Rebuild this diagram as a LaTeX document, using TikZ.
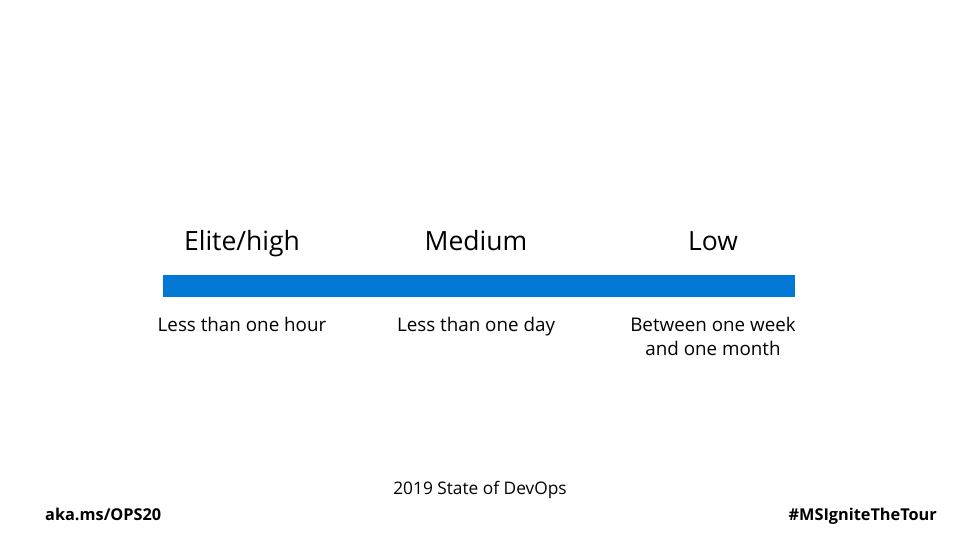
\documentclass[tikz,border=0pt]{standalone}
\usepackage{fontspec}
\setmainfont{Open Sans}
\definecolor{barblue}{RGB}{0,120,212}
\begin{document}
\begin{tikzpicture}[x=1pt,y=-1pt,
  head/.style={font=\fontsize{26.5}{30}\selectfont, anchor=base, inner sep=0},
  sub/.style={font=\fontsize{18.8}{24}\selectfont, anchor=base, align=center, inner sep=0},
  foot/.style={font=\fontsize{17.3}{20}\selectfont, anchor=base, inner sep=0},
  tag/.style={font=\bfseries\fontsize{16.3}{20}\selectfont, inner sep=0}]
\useasboundingbox (0,0) rectangle (960,540);
\fill[barblue] (163,275) rectangle (795,297);
\node[head] (h1) at (242,250) {Elite/high};
\node[head] (h2) at (476,250) {Medium};
\node[head] (h3) at (713,250) {Low};
\node[sub] (s1) at (242,331) {Less than one hour};
\node[sub] (s2) at (476,331) {Less than one day};
\node[sub] (s3) at (713,355) {Between one week\\and one month};
\node[foot] (src) at (480,494) {2019 State of DevOps};
\node[tag,anchor=base west] (aka) at (45,520) {aka.ms/OPS20};
\node[tag,anchor=base east] (hash) at (937,520) {\#MSIgniteTheTour};
\end{tikzpicture}
\end{document}
